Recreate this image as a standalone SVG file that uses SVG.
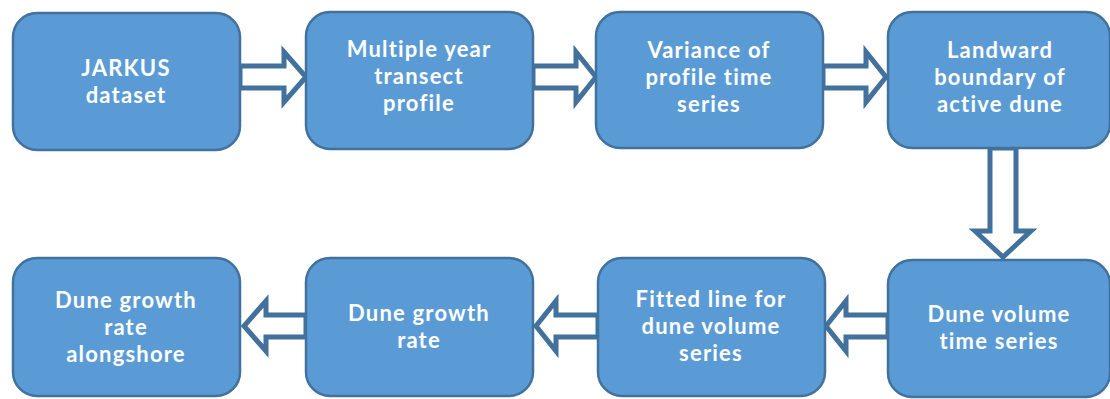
<svg xmlns="http://www.w3.org/2000/svg" width="1110" height="399" viewBox="0 0 1110 399">
<style>
.box{fill:#5b9bd5;stroke:#41719c;stroke-width:2.5}
.arr{fill:#ffffff;stroke:#41719c;stroke-width:5;stroke-linejoin:miter}
text{font-family:Lato,"Liberation Sans",sans-serif;font-weight:bold;font-size:22px;letter-spacing:1.2px;fill:#ffffff;text-anchor:middle}
</style>
<rect width="1110" height="399" fill="#ffffff"/>
<g id="connectors">
<polygon class="arr" points="240,66 284,66 284,52 306,77 284,102 284,88 240,88"/>
<polygon class="arr" points="533,66 576,66 576,52 596,77 576,102 576,88 533,88"/>
<polygon class="arr" points="823,66 866,66 866,52 886,77 866,102 866,88 823,88"/>
<polygon class="arr" points="990,148 1016,148 1016,231 1031,231 1003,257 975,231 990,231"/>
<polygon class="arr" points="888,315 846,315 846,301 826,326 846,351 846,337 888,337"/>
<polygon class="arr" points="598,315 556,315 556,301 536,326 556,351 556,337 598,337"/>
<polygon class="arr" points="306,315 266,315 266,301 244,326 266,351 266,337 306,337"/>
</g>
<g id="n1"><rect class="box" x="13" y="13" width="227" height="137" rx="24"/><text x="126" y="76">JARKUS</text><text x="126" y="103">dataset</text></g>
<g id="n2"><rect class="box" x="306" y="12" width="227" height="137" rx="24"/><text x="419" y="57">Multiple year</text><text x="419" y="84">transect</text><text x="419" y="111">profile</text></g>
<g id="n3"><rect class="box" x="596" y="12" width="227" height="136" rx="24"/><text x="709" y="58">Variance of</text><text x="709" y="85">profile time</text><text x="709" y="112">series</text></g>
<g id="n4"><rect class="box" x="888" y="12" width="222" height="136" rx="24"/><text x="1000" y="58">Landward</text><text x="1000" y="85">boundary of</text><text x="1000" y="112">active dune</text></g>
<g id="n5"><rect class="box" x="888" y="260" width="222" height="137" rx="24"/><text x="999" y="322">Dune volume</text><text x="999" y="349">time series</text></g>
<g id="n6"><rect class="box" x="598" y="258" width="227" height="138" rx="24"/><text x="711" y="307">Fitted line for</text><text x="711" y="334">dune volume</text><text x="711" y="361">series</text></g>
<g id="n7"><rect class="box" x="306" y="258" width="227" height="138" rx="24"/><text x="419" y="321">Dune growth</text><text x="419" y="348">rate</text></g>
<g id="n8"><rect class="box" x="13" y="258" width="227" height="138" rx="24"/><text x="126" y="308">Dune growth</text><text x="126" y="335">rate</text><text x="126" y="362">alongshore</text></g>
</svg>
